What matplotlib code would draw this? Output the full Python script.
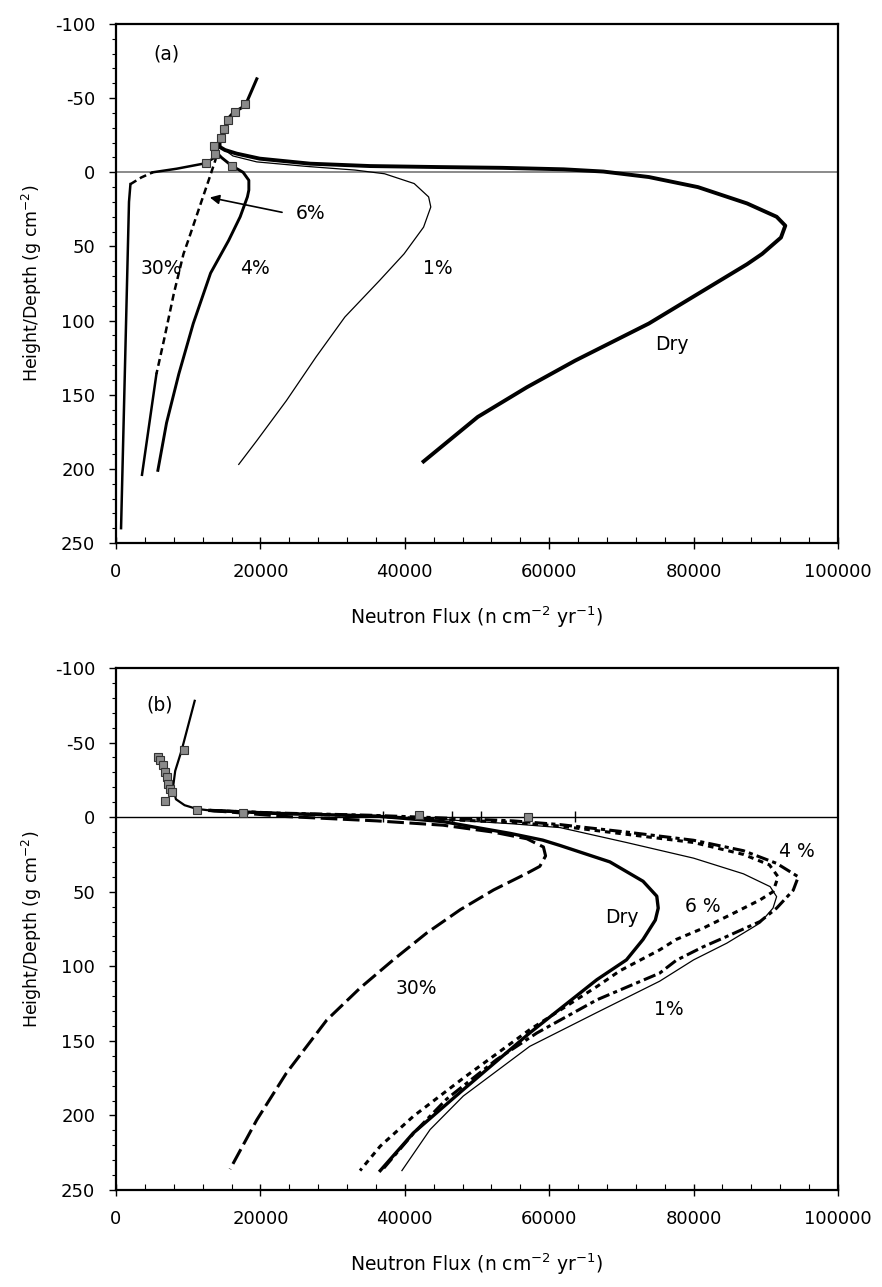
import matplotlib
matplotlib.use("Agg")
import matplotlib.pyplot as plt
from matplotlib.ticker import MultipleLocator

plt.rcParams['font.family'] = ['DejaVu Sans']
plt.rcParams['lines.scale_dashes'] = False

# ---------------- Panel (a) data ----------------
a_air_flux = [14400, 14400, 14600, 15100, 15300, 16200, 17900, 19500]
a_air_depth = [-17, -19.6, -24, -30, -35, -40, -45, -63]

a_mark_flux = [17800, 16500, 15450, 14900, 14600, 13550, 13750, 12400, 16000]
a_mark_depth = [-46, -40.6, -35.4, -29.4, -23, -17.5, -12.6, -6.3, -4]

a_dry_flux = [14400, 15100, 16700, 19900, 26900, 35200, 45000, 53500, 62000, 67500,
              73800, 80600, 87400, 91500, 92700, 92100, 89500, 87400, 80600, 73800,
              63600, 56900, 50100, 42600]
a_dry_depth = [-17, -15, -12.6, -9.2, -5.8, -4.2, -3.5, -3, -2, -0.5,
               3.2, 10, 21, 30, 36, 44, 55, 62, 82, 102,
               127, 145, 165, 195]

a_1_flux = [14800, 16200, 19500, 26300, 33100, 37200, 41300, 43300, 43600, 42600,
            39900, 36500, 31700, 27700, 23600, 19500, 17000]
a_1_depth = [-16, -11, -7, -4, -1.5, 1, 7.6, 16.6, 23.4, 37,
             55, 73, 97.6, 124.6, 154, 181, 197]

a_4_flux = [14000, 14600, 16000, 17600, 18400, 18400, 18200, 17200, 15600, 13100,
            10700, 8700, 7000, 5800]
a_4_depth = [-13, -10, -4.5, 0, 5.4, 12, 16.6, 30, 46, 68,
             102, 136, 169, 201]

a_6_flux = [13900, 13750, 13000, 11600, 10000, 9350, 8000, 6650, 5600, 3600]
a_6_depth = [-11, -8, 3, 23, 46, 55, 82, 113, 136, 204]

a_30_flux = [700, 1100, 1500, 1800, 2000, 3500, 5100, 8400, 12300, 13700]
a_30_depth = [240, 160, 80, 20, 8, 3.5, 0, -2.4, -6, -10]

a_labels = ["(a)", "6%", "30%", "4%", "1%", "Dry"]
a_label_flux = [7000, 27000, 6300, 19300, 44600, 77000]
a_label_depth = [-80, 28, 65, 65, 65, 116]

a_arrow_tail = (23000, 27)
a_arrow_head = (13000, 17)

# ---------------- Panel (b) data ----------------
b_air_flux = [10900, 9100, 8200, 7900, 8300, 9500, 11200, 13000]
b_air_depth = [-78, -45, -31, -20, -12, -8, -5.5, -4.5]

b_mark_flux = [9400, 5850, 6100, 6450, 6800, 7000, 7250, 7500, 7700, 6800,
               11200, 17600, 41900, 57100]
b_mark_depth = [-45.3, -40.3, -38.1, -34.8, -30.3, -27, -22.5, -19.2, -17, -11,
                -4.7, -3.1, -1.3, 0]

b_dry_flux = [13000, 22300, 36100, 45300, 54600, 59100, 61500, 68400, 73000, 74900,
              75100, 74700, 73000, 70700, 66600, 57300, 48100, 41200, 36600]
b_dry_depth = [-4.5, -2.5, -0.7, 3, 10.9, 15.4, 19, 30, 43, 53,
               61, 69, 82, 95.7, 109, 144.7, 182.7, 211.7, 237]

b_30_flux = [13000, 23200, 36100, 45300, 52200, 56900, 59200, 59500, 58700, 56900,
             52300, 47700, 43000, 38400, 33800, 29200, 23600, 19500, 15800]
b_30_depth = [-4.5, -0.5, 2.5, 5.4, 10, 14.5, 20, 26, 33, 37.7,
              48.8, 62, 77.8, 95.7, 114.6, 136, 171.6, 203, 236]

b_1_flux = [13000, 22000, 35000, 45000, 55000, 61500, 70700, 80000, 86900, 90600,
            91500, 91000, 89200, 84600, 80000, 75300, 66600, 57300, 48100, 43500, 39600]
b_1_depth = [-4.5, -2.5, -1, 1.5, 4.5, 7, 17, 27.5, 38, 46.6,
             53.3, 61, 71, 84.5, 95.7, 110, 131, 153.7, 187, 209.5, 237]

b_4_flux = [13000, 22000, 35000, 45000, 55000, 61500, 70700, 80000, 86900, 91500,
            94500, 93800, 91500, 89200, 84600, 81300, 77600, 75300, 66600, 58300,
            52700, 45800, 41200, 36800]
b_4_depth = [-4.5, -2.8, -1.3, 0.5, 2.5, 5, 10, 15.5, 22.5, 31,
             40, 49, 61, 70, 80, 87, 96, 104.6, 122.5, 144.7,
             162.6, 189, 212, 237]

b_6_flux = [13000, 22000, 35000, 45000, 55000, 61500, 70700, 80000, 86900, 90500,
            91700, 91000, 89200, 85500, 81300, 77600, 75300, 69800, 66600, 57300,
            48100, 41200, 36600, 33800]
b_6_depth = [-4.5, -2.6, -0.8, 1.5, 3.5, 6, 11.5, 17, 25, 32,
             40, 50, 55.5, 64.5, 74.5, 82, 89, 103, 113.6, 142.5,
             175, 200.5, 220.6, 237]

b_zero_ticks = [37000, 46500, 50600, 63600]

b_labels = ["(b)", "4 %", "6 %", "Dry", "30%", "1%"]
b_label_flux = [6100, 94300, 81300, 70000, 41600, 76500]
b_label_depth = [-75, 23, 60, 67, 115, 129]

xticks = [0, 20000, 40000, 60000, 80000, 100000]
yticks = [-100, -50, 0, 50, 100, 150, 200, 250]

# ---------------- Figure ----------------
W, H = 882, 1287
fig = plt.figure(figsize=(W / 100, H / 100), dpi=100)
ax1 = fig.add_axes([116 / W, 1 - 543 / H, 722 / W, (543 - 24) / H])
ax2 = fig.add_axes([116 / W, 1 - 1190 / H, 722 / W, (1190 - 668) / H])

FS_TICK = 13
FS_XLAB = 13.5
FS_YLAB = 12.5
FS_TXT = 13.5


def style_axes(ax):
    ax.set_xlim(0, 100000)
    ax.set_ylim(250, -100)
    ax.set_xticks(xticks)
    ax.set_xticklabels([str(v) for v in xticks])
    ax.set_yticks(yticks)
    ax.set_yticklabels([str(v) for v in yticks])
    ax.xaxis.set_minor_locator(MultipleLocator(4000))
    ax.yaxis.set_minor_locator(MultipleLocator(10))
    ax.tick_params(axis='x', which='major', direction='inout', length=8, width=1,
                   labelsize=FS_TICK, pad=10.5)
    ax.tick_params(axis='x', which='minor', direction='in', length=4, width=0.8)
    ax.tick_params(axis='y', which='major', direction='out', length=5, width=1,
                   labelsize=FS_TICK, pad=10)
    ax.tick_params(axis='y', which='minor', direction='out', length=3, width=0.8)
    for s in ax.spines.values():
        s.set_linewidth(1.6)
    ax.set_xlabel("Neutron Flux (n cm$^{-2}$ yr$^{-1}$)", fontsize=FS_XLAB, labelpad=17)
    ax.set_ylabel("Height/Depth (g cm$^{-2}$)", fontsize=FS_YLAB, labelpad=8)


# ---- panel (a) ----
style_axes(ax1)
ax1.axhline(0, color='#777777', lw=1.2, zorder=1)
ax1.plot(a_dry_flux, a_dry_depth, color='black', lw=2.8, zorder=3)
ax1.plot(a_1_flux, a_1_depth, color='black', lw=0.9, zorder=3)
ax1.plot(a_4_flux, a_4_depth, color='black', lw=2.1, zorder=3)
ax1.plot(a_6_flux[:9], a_6_depth[:9], color='black', lw=1.8, dashes=(5, 3), zorder=3)
ax1.plot(a_6_flux[8:], a_6_depth[8:], color='black', lw=1.8, zorder=3)
ax1.plot(a_30_flux[:5], a_30_depth[:5], color='black', lw=1.8, zorder=3)
ax1.plot(a_30_flux[4:7], a_30_depth[4:7], color='black', lw=1.8, dashes=(5, 3), zorder=3)
ax1.plot(a_30_flux[6:], a_30_depth[6:], color='black', lw=1.8, zorder=3)
ax1.plot(a_air_flux, a_air_depth, color='black', lw=2.2, zorder=3)
ax1.plot(a_mark_flux, a_mark_depth, linestyle='none', marker='s', markersize=6,
         mfc='#8a8a8a', mec='#333333', mew=0.8, zorder=4)
ax1.annotate("", xy=a_arrow_head, xytext=a_arrow_tail,
             arrowprops=dict(arrowstyle='-|>', color='black', lw=1.2,
                             mutation_scale=14, shrinkA=0, shrinkB=0))
for t, fx, dp in zip(a_labels, a_label_flux, a_label_depth):
    ax1.text(fx, dp, t, fontsize=FS_TXT, ha='center', va='center')

# ---- panel (b) ----
style_axes(ax2)
ax2.axhline(0, color='black', lw=1.0, zorder=1)
ax2.vlines(b_zero_ticks, -4, 3, color='black', lw=1.0, zorder=2)
ax2.plot(b_1_flux, b_1_depth, color='black', lw=0.9, zorder=3)
ax2.plot(b_dry_flux, b_dry_depth, color='black', lw=2.4, zorder=3)
ax2.plot(b_30_flux, b_30_depth, color='black', lw=2.2, dashes=(12, 4), zorder=3)
ax2.plot(b_4_flux, b_4_depth, color='black', lw=2.2, dashes=(9, 3, 3, 3), zorder=3)
ax2.plot(b_6_flux, b_6_depth, color='black', lw=2.2, dashes=(4, 3.5), zorder=3)
ax2.plot(b_air_flux, b_air_depth, color='black', lw=1.6, zorder=3)
ax2.plot(b_mark_flux, b_mark_depth, linestyle='none', marker='s', markersize=6,
         mfc='#8a8a8a', mec='#333333', mew=0.8, zorder=4)
for t, fx, dp in zip(b_labels, b_label_flux, b_label_depth):
    ax2.text(fx, dp, t, fontsize=FS_TXT, ha='center', va='center')

fig.savefig("out.png", dpi=100)
